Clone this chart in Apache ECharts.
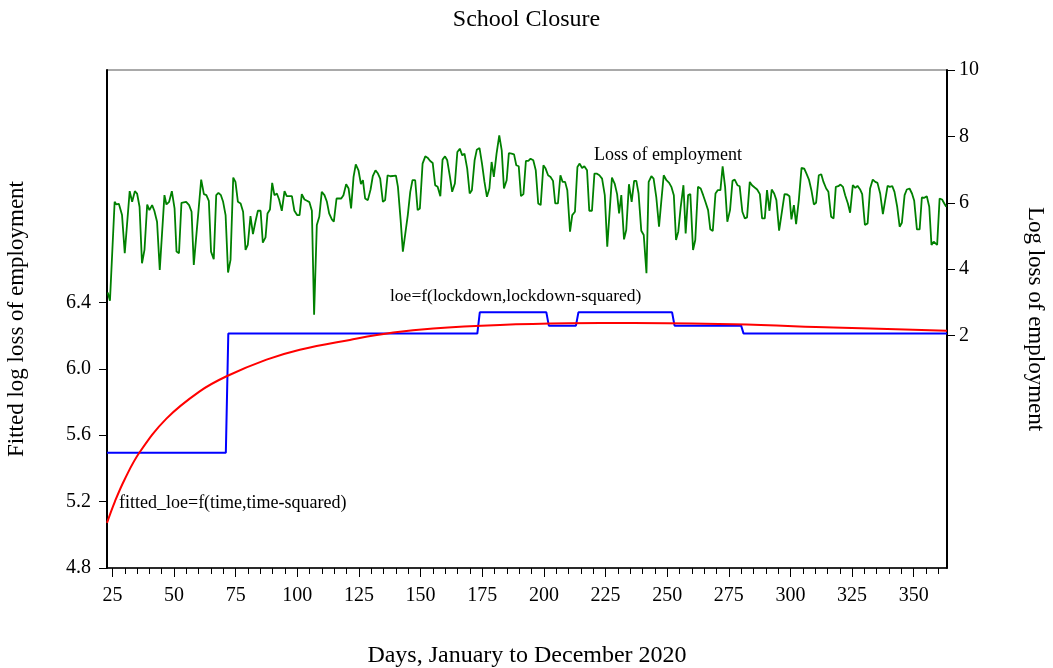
<!DOCTYPE html>
<html>
<head>
<meta charset="utf-8">
<script src="https://cdn.jsdelivr.net/npm/echarts@6/dist/echarts.min.js"></script>
<style>html,body{margin:0;padding:0;background:#fff}#c{width:1053px;height:668px}</style>
</head>
<body>
<div id="c"></div>
<script>
// ---- data ----
const xTickLabels = [25,50,75,100,125,150,175,200,225,250,275,300,325,350];
const leftTickLabels = [4.8,5.2,5.6,6.0,6.4];
const rightTickLabels = [2,4,6,8,10];

// Loss of employment (right axis), [day, log loss]
const lossOfEmployment = [
[23.1,3.3],[24.0,3.05],[25.9,6.03],[26.6,5.95],[27.6,5.97],[28.2,5.96],[28.9,5.63],[30.0,4.48],[32.0,6.35],[33.0,6.03],[34.1,6.35],[35.0,6.28],[36.0,5.88],[37.0,4.18],[38.0,4.58],[39.1,5.95],[40.0,5.78],[41.1,5.93],[42.0,5.76],[43.1,5.43],[44.2,3.98],[46.1,6.23],[46.9,5.95],[48.0,6.03],[49.1,6.35],[50.2,5.83],[51.0,4.53],[52.0,4.48],[53.0,6.0],[54.9,6.03],[56.1,5.93],[57.1,5.73],[58.0,4.13],[61.0,6.7],[62.1,6.26],[63.1,6.23],[64.1,6.06],[65.0,4.53],[66.1,4.3],[67.1,6.23],[68.0,6.3],[69.0,6.23],[69.9,6.03],[70.9,5.63],[71.9,3.9],[72.9,4.28],[74.0,6.76],[74.9,6.63],[75.9,6.03],[77.0,5.98],[78.0,5.73],[79.0,4.58],[79.9,4.73],[81.0,5.6],[82.0,5.06],[83.0,5.43],[84.0,5.76],[85.1,5.76],[86.0,4.8],[87.1,4.96],[87.9,5.68],[88.9,5.8],[89.8,6.6],
[90.7,6.23],[91.7,6.28],[92.6,6.1],[93.7,5.76],[94.8,6.35],[95.7,6.2],[96.8,6.2],[97.8,6.2],[98.8,5.76],[99.9,5.63],[100.9,5.63],[101.8,6.26],[102.9,6.1],[103.9,6.06],[104.9,6.02],[105.9,5.76],[106.8,2.63],[107.9,5.33],[108.9,5.58],[109.9,6.33],[111.0,6.23],[112.0,6.03],[112.9,5.68],[114.0,5.5],[114.8,5.43],[115.9,6.13],[116.7,6.16],[117.8,6.13],[118.7,6.23],[119.8,6.56],[120.8,6.43],[121.8,5.83],[122.8,6.78],[123.7,7.16],[124.8,6.98],[125.8,6.56],[126.6,6.68],[127.5,6.13],[128.6,6.08],[129.7,6.4],[130.6,6.8],[131.7,6.98],[132.7,6.88],[133.6,6.73],[134.7,6.03],[135.6,6.08],[136.6,6.83],[137.7,6.8],[140.0,6.82],[140.8,6.48],[141.9,5.48],[142.8,4.53],[143.8,5.08],[144.8,5.63],[145.8,6.33],[146.7,6.68],[147.8,6.68],[148.8,5.78],[149.7,5.83],[150.8,7.18],[151.9,7.4],[152.8,7.36],[153.9,7.26],[154.9,7.2],[155.9,6.53],[156.9,6.48],[158.0,6.2],[158.9,7.3],
[159.9,7.4],[160.8,7.28],[161.9,6.78],[162.8,6.33],[163.9,6.58],[164.9,7.53],[165.9,7.63],[166.9,7.43],[167.8,7.48],[168.9,7.03],[169.9,6.28],[170.8,6.38],[171.9,7.28],[172.8,7.6],[173.9,7.65],[174.9,7.18],[175.9,6.63],[176.9,6.18],[177.9,6.43],[178.8,7.23],[179.7,6.78],[180.8,7.48],[181.9,8.03],[182.9,7.58],[183.8,6.43],[184.9,6.68],[185.8,7.5],[186.9,7.48],[187.9,7.46],[188.8,7.13],[189.8,7.1],[190.7,6.2],[191.7,6.26],[192.7,7.26],[193.7,7.26],[194.6,7.33],[195.7,7.28],[196.7,6.98],[197.7,5.98],[198.7,5.93],[199.8,7.13],[200.7,7.03],[201.7,6.83],[202.7,6.78],[203.7,6.66],[204.6,5.98],[205.7,5.98],[206.7,6.83],[207.6,6.63],[208.6,6.63],[209.5,6.38],[210.6,5.13],[211.5,5.63],[212.6,5.73],[213.6,7.08],[214.5,7.18],[215.5,7.05],[216.4,7.1],[217.5,6.98],[218.4,5.76],[219.5,5.76],[220.5,6.88],[221.4,6.88],[222.5,6.83],[223.6,6.73],[224.7,6.23],[225.7,4.68],
[227.6,6.76],[228.7,6.58],[229.7,6.26],[230.5,5.68],[231.4,6.23],[232.5,4.9],[233.4,5.18],[234.5,6.56],[235.6,6.03],[236.6,6.66],[237.5,6.66],[238.4,6.28],[239.5,5.16],[240.5,5.03],[241.6,3.88],[242.5,6.63],[243.6,6.8],[244.5,6.73],[245.6,6.16],[246.7,5.28],[247.6,6.03],[248.6,6.83],[249.7,6.68],[250.8,6.6],[251.7,6.48],[252.7,6.23],[253.6,4.88],[254.5,5.13],[255.5,5.88],[256.6,6.53],[257.5,5.08],[258.5,6.23],[259.4,6.26],[260.5,4.58],[261.4,4.88],[262.5,6.48],[263.6,6.43],[264.6,6.23],[265.5,6.03],[266.6,5.78],[267.5,5.2],[268.5,5.15],[269.6,6.28],[270.5,6.38],[271.6,6.38],[272.5,7.1],[273.5,6.48],[274.4,5.43],[275.5,5.78],[276.5,6.66],[277.4,6.7],[278.5,6.53],[279.4,6.5],[280.5,5.73],[281.5,5.53],[282.4,5.56],[283.5,6.63],[284.4,6.53],[285.5,6.46],[286.5,6.4],[287.6,6.26],[288.5,5.53],[289.6,5.53],[290.5,6.38],[291.5,5.76],[292.4,6.4],[293.4,6.28],[294.3,6.08],[295.4,5.16],
[296.2,5.2],[297.6,6.26],[298.7,6.25],[299.6,6.2],[300.4,5.5],[301.4,5.93],[302.3,5.36],[303.4,6.08],[304.5,7.05],[305.6,7.03],[306.5,6.88],[307.5,6.7],[308.5,6.38],[309.5,5.95],[310.4,6.0],[311.5,6.83],[312.5,6.86],[313.4,6.63],[314.5,6.43],[315.4,6.33],[316.5,5.58],[317.5,5.53],[318.4,6.48],[319.4,6.5],[320.3,6.55],[321.3,6.48],[322.2,6.23],[323.3,5.98],[324.2,5.7],[325.3,6.53],[326.3,6.45],[327.2,6.51],[328.2,6.41],[329.1,6.26],[330.2,5.33],[331.3,5.38],[332.3,6.43],[333.4,6.7],[334.4,6.63],[335.3,6.6],[336.4,6.28],[337.5,5.66],[338.3,5.68],[339.4,6.51],[340.3,6.48],[341.3,6.5],[342.2,6.33],[343.3,5.88],[344.3,5.28],[345.2,5.4],[346.3,6.23],[347.2,6.4],[348.3,6.43],[349.3,6.28],[350.2,6.06],[351.3,5.2],[352.4,5.2],[353.3,6.16],[354.3,6.15],[355.3,6.2],[356.3,5.88],[357.2,4.73],[358.1,4.83],[358.9,4.78],[359.5,4.73],[360.5,6.13],[361.5,6.1],[362.4,5.98],[363.2,5.88]
];

// loe = f(lockdown, lockdown-squared) (left axis)
const loeDays   = [22.8, 71, 72, 173, 174, 201, 202, 213, 214, 252, 253, 280, 281, 363.5];
const loeValues = [5.495,5.495,6.212,6.212,6.34,6.34,6.26,6.26,6.34,6.34,6.26,6.26,6.212,6.212];

// fitted_loe = f(time, time-squared) (left axis)
const fittedDays   = [22.8, 26, 30.0, 36.1, 46.9, 60.4, 71.3, 87.5, 101, 121.3, 138.9, 155.1, 182.2, 210, 236.3, 276.9, 317.4, 363.5];
const fittedValues = [5.072,5.2,5.335,5.4985,5.7,5.864,5.955,6.055,6.115,6.174,6.218,6.243,6.264,6.274,6.276,6.268,6.249,6.229];

const serif = '"Liberation Serif", "DejaVu Serif", serif';
const xMinorTicks = [];
for (let d = 25; d <= 360; d += 5) xMinorTicks.push(d);

const chart = echarts.init(document.getElementById('c'), null, {renderer: 'canvas'});
chart.setOption({
  animation: false,
  backgroundColor: '#fff',
  title: {
    text: 'School Closure', left: 'center', top: 3,
    textStyle: {fontFamily: serif, fontSize: 24, fontWeight: 'normal', color: '#000'}
  },
  grid: {left: 107, right: 106, top: 70, bottom: 100, show: true, borderColor: '#555', borderWidth: 1,
         backgroundColor: 'transparent', outerBoundsMode: 'none', containLabel: false},
  xAxis: [{
    type: 'value', min: 22.8, max: 363.5,
    name: 'Days, January to December 2020', nameLocation: 'middle', nameGap: 76,
    nameTextStyle: {fontFamily: serif, fontSize: 24, color: '#000'},
    axisLine: {show: true, onZero: false, lineStyle: {color: '#000', width: 1.5}},
    axisTick: {show: true, customValues: xTickLabels, length: 9, lineStyle: {color: '#000'}},
    axisLabel: {customValues: xTickLabels, fontFamily: serif, fontSize: 20, color: '#000', margin: 18},
    splitLine: {show: false}
  }, {
    type: 'value', min: 22.8, max: 363.5, position: 'bottom',
    axisLine: {show: false, onZero: false},
    axisTick: {show: true, customValues: xMinorTicks, length: 6, lineStyle: {color: '#000'}},
    axisLabel: {show: false},
    splitLine: {show: false}
  }],
  yAxis: [{
    type: 'value', min: 4.8, max: 7.8, position: 'left',
    name: 'Fitted log loss of employment', nameLocation: 'middle', nameGap: 79, nameRotate: 90,
    nameTextStyle: {fontFamily: serif, fontSize: 23, color: '#000'},
    axisLine: {show: true, onZero: false, lineStyle: {color: '#000', width: 2}},
    axisTick: {show: true, customValues: leftTickLabels, length: 8, lineStyle: {color: '#000'}},
    axisLabel: {customValues: leftTickLabels, formatter: v => v.toFixed(1), fontFamily: serif, fontSize: 20, color: '#000', margin: 16},
    splitLine: {show: false}
  }, {
    type: 'value', min: -5, max: 10, position: 'right',
    name: 'Log loss of employment', nameLocation: 'middle', nameGap: 77, nameRotate: -90,
    nameTextStyle: {fontFamily: serif, fontSize: 23, color: '#000'},
    axisLine: {show: true, onZero: false, lineStyle: {color: '#000', width: 2}},
    axisTick: {show: true, customValues: rightTickLabels, length: 8, lineStyle: {color: '#000'}},
    axisLabel: {customValues: rightTickLabels, fontFamily: serif, fontSize: 20, color: '#000', margin: 12},
    splitLine: {show: false}
  }],
  graphic: [
    {type: 'text', left: 594, top: 146, style: {text: 'Loss of employment', font: '18px ' + serif, fill: '#000'}},
    {type: 'text', left: 390, top: 287, style: {text: 'loe=f(lockdown,lockdown-squared)', font: '17.5px ' + serif, fill: '#000'}},
    {type: 'text', left: 119, top: 494, style: {text: 'fitted_loe=f(time,time-squared)', font: '18px ' + serif, fill: '#000'}}
  ],
  series: [{
    name: 'loe', type: 'line', xAxisIndex: 0, yAxisIndex: 0, showSymbol: false,
    data: loeDays.map((d, i) => [d, loeValues[i]]),
    lineStyle: {color: '#0000ff', width: 2}, z: 2
  }, {
    name: 'fitted_loe', type: 'line', xAxisIndex: 0, yAxisIndex: 0, showSymbol: false,
    smooth: 0.4,
    data: fittedDays.map((d, i) => [d, fittedValues[i]]),
    lineStyle: {color: '#ff0000', width: 2}, z: 3
  }, {
    name: 'loss', type: 'line', xAxisIndex: 0, yAxisIndex: 1, showSymbol: false,
    data: lossOfEmployment,
    lineStyle: {color: '#008000', width: 1.8}, z: 4
  }]
});
</script>
</body>
</html>
